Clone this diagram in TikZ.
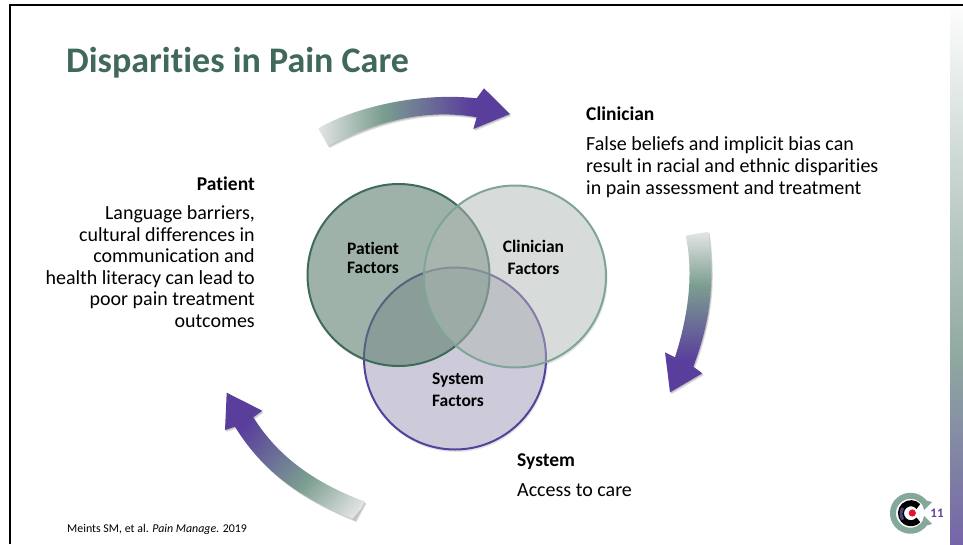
\documentclass[tikz,border=0pt]{standalone}
\usepackage{fontspec}
\setmainfont[Ligatures=CommonOff]{Carlito}
\definecolor{arrL}{HTML}{E4E5E5}
\definecolor{arrG}{HTML}{7C9F90}
\definecolor{arrP}{HTML}{5A3E9C}
\definecolor{barT}{HTML}{FFFFFF}
\definecolor{barG}{HTML}{8FA8A0}
\definecolor{barP}{HTML}{7565A8}
\pgfdeclarehorizontalshading{arrowgrad}{100bp}{
  color(0bp)=(arrL); color(25bp)=(arrL); color(41.5bp)=(arrG); color(65bp)=(arrP); color(75bp)=(arrP); color(100bp)=(arrP)}
\pgfdeclareverticalshading{bargrad}{100bp}{
  color(0bp)=(barP); color(25bp)=(barP); color(42bp)=(barG); color(75bp)=(barT); color(100bp)=(barT)}
\definecolor{titleG}{HTML}{40695A}
\definecolor{ringP}{HTML}{3F6B5B}
\definecolor{ringC}{HTML}{7FA597}
\definecolor{ringS}{HTML}{55409C}
\definecolor{fillP}{HTML}{5B7C6C}
\definecolor{fillC}{HTML}{B1B9B5}
\definecolor{fillS}{HTML}{CDCBD9}
\definecolor{logoG}{HTML}{84A99B}
\definecolor{logoR}{HTML}{E8112D}
\definecolor{logoP}{HTML}{4A3F80}
\definecolor{pageNo}{HTML}{5B479E}
\newcommand{\arrowTop}{(318.3,128.3) .. controls (355,107) and (420,92) .. (476.7,98.3) -- (484,88.3) -- (510,114) -- (473.3,129) -- (476.7,117.3) .. controls (425,108) and (375,122) .. (328.3,146) -- cycle}
\newcommand{\arrowRight}{(685.7,235.7) -- (708.3,231.7) .. controls (715,280) and (711,320) .. (693.3,366.7) -- (702.3,373.3) -- (670,392.3) -- (665,352.3) -- (675,357.3) .. controls (690,310) and (693,270) .. (685.7,235.7) -- cycle}
\newcommand{\arrowLeft}{(226.7,392.7) -- (262.3,410.7) -- (253.3,417.3) .. controls (280,460) and (320,485) .. (365,501.7) -- (355,520) .. controls (305,500) and (265,475) .. (235,426.7) -- (225,430) -- cycle}
\tikzset{
  x=1pt,y=-1pt,
  venn/.style={circle,minimum size=182pt,inner sep=0pt,line width=2pt},
  vennlabel/.style={font=\fontsize{17.5}{22}\selectfont\bfseries,align=center,inner sep=0pt,text=black},
  bodytext/.style={font=\fontsize{20}{22}\selectfont,inner sep=0pt,text=black},
  headtext/.style={font=\fontsize{19.5}{22}\selectfont\bfseries,inner sep=0pt,text=black},
  softshadow/.style={fill=black,opacity=.13},
}
\begin{document}
\begin{tikzpicture}
\useasboundingbox (0,0) rectangle (963,544);
\fill[white] (0,0) rectangle (963,544);
% side bar
\shade[shading=bargrad] (950,0) rectangle (963,544);
% frame
\draw[black,line width=2pt] (10,544) -- (10,5) -- (963,5);
% arrow shadows
\foreach \d in {1,2}{
  \fill[softshadow,shift={(\d*0.7,\d*1)}] \arrowTop;
  \fill[softshadow,shift={(\d*0.7,\d*1)}] \arrowRight;
  \fill[softshadow,shift={(\d*0.7,\d*1)}] \arrowLeft;
}
% arrows
\begin{scope}\clip \arrowTop;
  \shade[shading=arrowgrad,transform canvas={shift={(318,120)}}] (0,-100) rectangle (192,100);
\end{scope}
\begin{scope}\clip \arrowRight;
  \shade[shading=arrowgrad,transform canvas={shift={(697,232)},rotate=-90}] (0,-100) rectangle (160,100);
\end{scope}
\begin{scope}\clip \arrowLeft;
  \shade[shading=arrowgrad,transform canvas={shift={(360,510)},rotate=139}] (0,-150) rectangle (178,150);
\end{scope}
% venn shadows
\foreach \c in {(398.5,275),(515,276.5),(455,358.5)}{
  \fill[black,opacity=.10,shift={(1,2)}] \c circle (91.5);
}
\foreach \c in {(398.5,275),(515,276.5),(455,358.5)}{
  \fill[white] \c circle (91);
}
% venn
\node[venn,fill=fillS,draw=ringS] (sys) at (455,358.5) {};
\node[venn,fill=fillP,draw=ringP,opacity=.58,draw opacity=1] (pat) at (398.5,275) {};
\node[venn,fill=fillC,draw=ringC,opacity=.5,draw opacity=1] (cli) at (515,276.5) {};
\node[vennlabel,font=\fontsize{17.5}{19}\selectfont\bfseries] (patl) at (373,258) {Patient\\Factors};
\node[vennlabel] (clil) at (533.5,257.5) {Clinician\\Factors};
\node[vennlabel] (sysl) at (458,389.5) {System\\Factors};
% title
\node[anchor=base west,inner sep=0pt,text=titleG,font=\fontsize{36}{40}\selectfont\bfseries] (title) at (66,72) {Disparities in Pain Care};
% texts
\node[headtext,anchor=base west] (clih) at (586,120) {Clinician};
\node[bodytext,anchor=north west,align=left] (clib) at (586,136) {False beliefs and implicit bias can\\result in racial and ethnic disparities\\in pain assessment and treatment};
\node[headtext,anchor=base east] (path) at (255,190) {Patient};
\node[bodytext,font=\fontsize{20}{21.5}\selectfont,anchor=north east,align=right] (patb) at (255,205.7) {Language barriers,\\cultural differences in\\communication and\\health literacy can lead to\\poor pain treatment\\outcomes};
\node[headtext,anchor=base west] (sysh) at (517,466) {System};
\node[bodytext,anchor=base west] (sysb) at (517,496) {Access to care};
\node[anchor=base west,inner sep=0pt,font=\fontsize{11.9}{14}\selectfont] (cite) at (67,532) {Meints SM, et al. \textit{Pain Manage.} 2019};
% logo
\draw[logoG,line width=6pt] (925.6,504.5) arc[start angle=-30,end angle=-330,radius=17.5];
\fill[logoG] (921,499) -- (932,502) -- (924,510) -- cycle;
\fill[logoG] (921,527) -- (932,524) -- (924,516) -- cycle;
\draw[black,line width=6pt] (918.4,506.5) arc[start angle=-42,end angle=-318,radius=10];
\draw[logoP,line width=3pt] (902.8,508) arc[start angle=-145,end angle=-215,radius=10];
\fill[logoR] (912.3,513) circle (3.6);
\node[inner sep=0pt,text=pageNo,font=\fontsize{13}{15}\selectfont\bfseries] (page) at (937,513) {11};
\end{tikzpicture}
\end{document}
